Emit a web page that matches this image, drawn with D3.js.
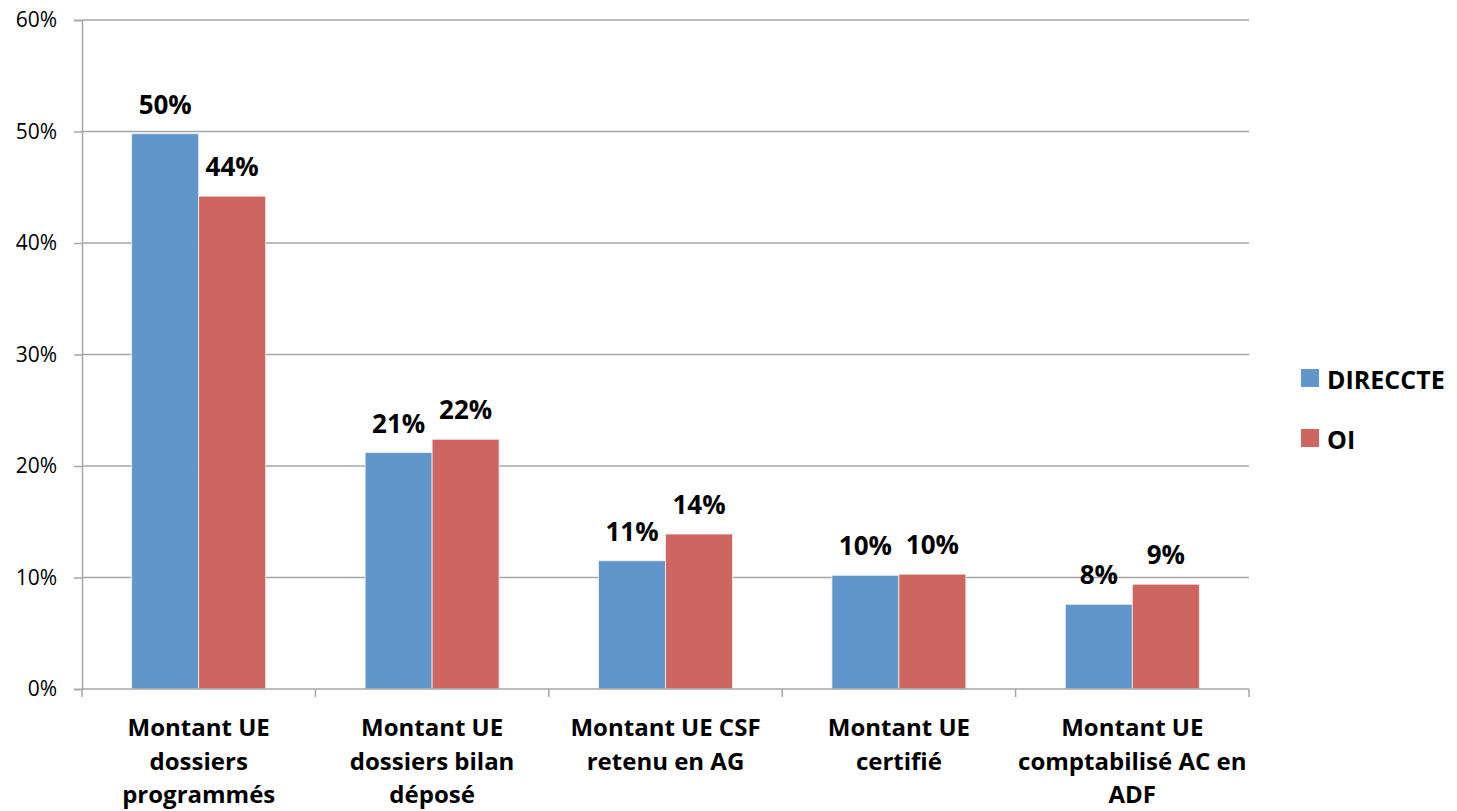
<!DOCTYPE html>
<html>
<head>
<meta charset="utf-8">
<script src="https://cdn.jsdelivr.net/npm/d3@7"></script>
<style>
  body { margin: 0; background: #fff; }
  svg text { font-family: "Open Sans", "Liberation Sans", sans-serif; fill: #000; }
</style>
</head>
<body>
<main></main>
<script>
const categories = [
  ["Montant UE", "dossiers", "programmés"],
  ["Montant UE", "dossiers bilan", "déposé"],
  ["Montant UE CSF", "retenu en AG"],
  ["Montant UE", "certifié"],
  ["Montant UE", "comptabilisé AC en", "ADF"]
];
const series = ["DIRECCTE", "OI"];
const direccte = [49.8, 21.2, 11.5, 10.2, 7.6];
const oi = [44.2, 22.4, 13.9, 10.3, 9.4];
const labelsDireccte = ["50%", "21%", "11%", "10%", "8%"];
const labelsOi = ["44%", "22%", "14%", "10%", "9%"];
const yTicks = [0, 10, 20, 30, 40, 50, 60];

const W = 1457, H = 811;
const plot = {left: 82, right: 1249, top: 20, bottom: 689};

const color = d3.scaleOrdinal().domain(series).range(["#6096c9", "#cd6660"]);

const svg = d3.select("main").append("svg")
    .attr("width", W)
    .attr("height", H);

const x = d3.scaleBand()
    .domain(d3.range(categories.length))
    .range([plot.left, plot.right])
    .paddingInner(0)
    .paddingOuter(0);

// each group: ~134px of bars in a ~233px slot
const x1 = d3.scaleBand()
    .domain(series)
    .range([0, x.bandwidth()])
    .paddingOuter(0.742)
    .paddingInner(0);

const y = d3.scaleLinear()
    .domain([0, 60])
    .range([plot.bottom, plot.top]);

// gridlines
svg.append("g")
  .selectAll("line")
  .data(yTicks.slice(1))
  .enter().append("line")
    .attr("x1", plot.left).attr("x2", plot.right)
    .attr("y1", d => y(d)).attr("y2", d => y(d))
    .attr("stroke", "#a6a6a6")
    .attr("stroke-width", 1.5);

// y axis
const yAxis = svg.append("g")
    .attr("transform", `translate(${plot.left},0)`)
    .call(d3.axisLeft(y).tickValues(yTicks).tickFormat(d => d + "%").tickSize(8).tickPadding(17));
yAxis.select(".domain").attr("stroke", "#a6a6a6").attr("stroke-width", 1.5);
yAxis.selectAll(".tick line").attr("stroke", "#a6a6a6").attr("stroke-width", 1.5);
yAxis.selectAll("text")
    .style("font-size", "21px")
    .style("font-family", "'Open Sans', sans-serif");

// bars
const data = categories.map((c, i) => ({i, values: [direccte[i], oi[i]], labels: [labelsDireccte[i], labelsOi[i]]}));

const groups = svg.selectAll(".grp")
    .data(data)
  .enter().append("g")
    .attr("class", "grp")
    .attr("transform", d => `translate(${x(d.i)},0)`);

groups.selectAll("rect")
    .data(d => series.map((s, k) => ({s, v: d.values[k], lab: d.labels[k]})))
  .enter().append("rect")
    .attr("x", d => x1(d.s))
    .attr("width", x1.bandwidth())
    .attr("y", d => y(d.v))
    .attr("height", d => y(0) - y(d.v))
    .attr("fill", d => color(d.s))
    .attr("stroke", "#f3f3f3")
    .attr("stroke-width", 0.8);

groups.selectAll(".val")
    .data(d => series.map((s, k) => ({s, v: d.values[k], lab: d.labels[k]})))
  .enter().append("text")
    .attr("class", "val")
    .attr("x", d => x1(d.s) + x1.bandwidth() / 2)
    .attr("y", d => y(d.v) - 20)
    .attr("text-anchor", "middle")
    .style("font-size", "26px")
    .style("font-weight", "bold")
    .text(d => d.lab);

// x axis
const xAxis = svg.append("g")
    .attr("transform", `translate(0,${plot.bottom})`);
xAxis.append("line")
    .attr("x1", plot.left).attr("x2", plot.right)
    .attr("stroke", "#a6a6a6").attr("stroke-width", 1.5);
xAxis.selectAll(".xt")
    .data(d3.range(categories.length + 1))
  .enter().append("line")
    .attr("x1", d => plot.left + d * x.bandwidth())
    .attr("x2", d => plot.left + d * x.bandwidth())
    .attr("y1", 0).attr("y2", 8)
    .attr("stroke", "#a6a6a6").attr("stroke-width", 1.5);

const xl = xAxis.selectAll(".xl")
    .data(categories)
  .enter().append("text")
    .attr("class", "xl")
    .attr("text-anchor", "middle")
    .attr("transform", (d, i) => `translate(${x(i) + x.bandwidth() / 2},47)`)
    .style("font-size", "24px")
    .style("font-weight", "bold");
xl.selectAll("tspan")
    .data(d => d)
  .enter().append("tspan")
    .attr("x", 0)
    .attr("y", (d, k) => k * 33.5)
    .text(d => d);

// legend
const legend = svg.selectAll(".legend")
    .data(series)
  .enter().append("g")
    .attr("class", "legend")
    .attr("transform", (d, i) => `translate(1301, ${369 + i * 60})`);

legend.append("rect")
    .attr("width", 18)
    .attr("height", 18)
    .attr("fill", color);

legend.append("text")
    .attr("x", 26)
    .attr("y", 20)
    .style("font-size", "25px")
    .style("font-weight", "bold")
    .text(d => d);
</script>
</body>
</html>
